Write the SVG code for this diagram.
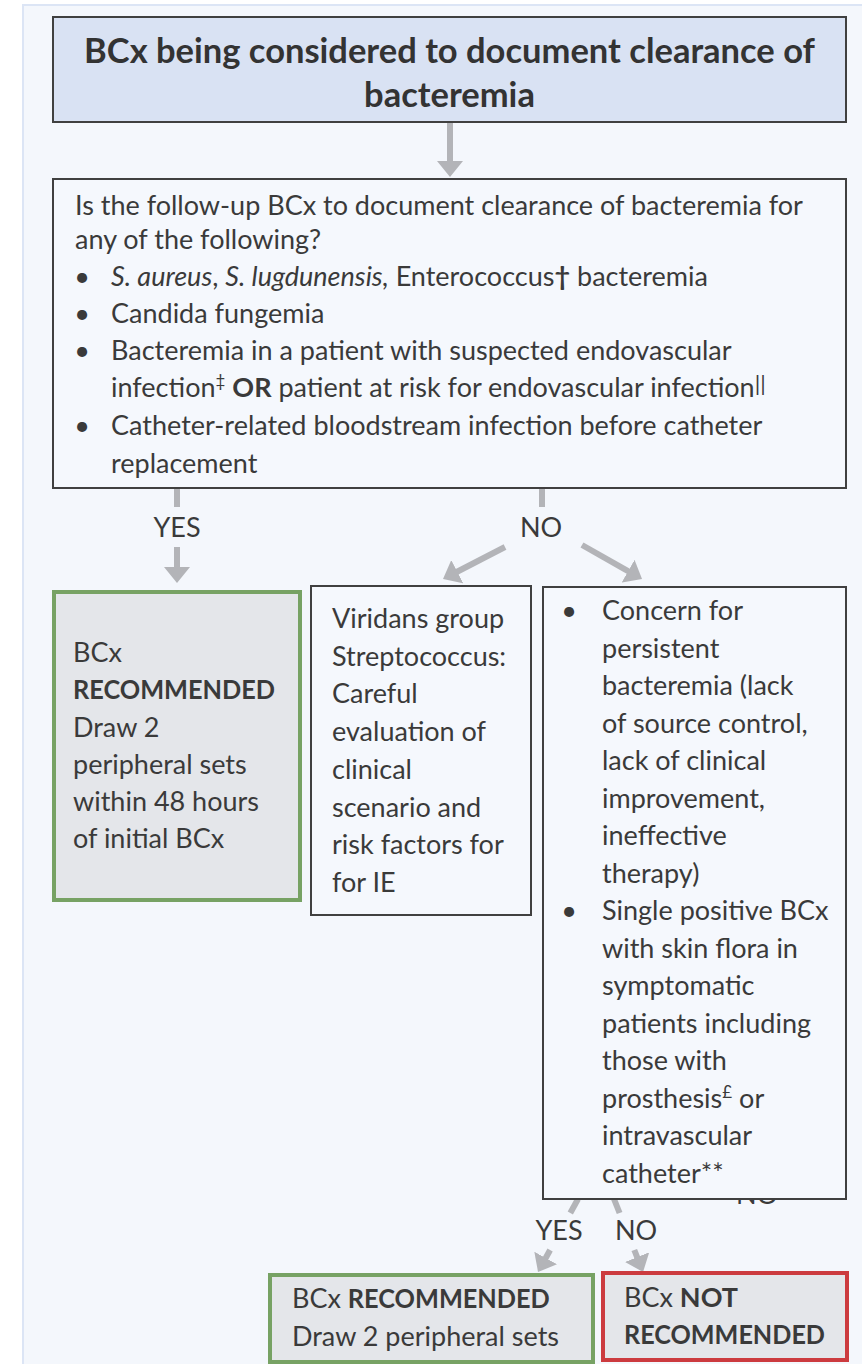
<svg xmlns="http://www.w3.org/2000/svg" width="862" height="1364" viewBox="0 0 862 1364">
<style>
.t{font-family:Lato,'Noto Sans','Liberation Sans',sans-serif;font-size:27px;fill:#3a3a3a}
.title{font-family:Lato,'Noto Sans','Liberation Sans',sans-serif;font-size:34.5px;font-weight:bold;fill:#333333;text-anchor:middle}
.b{font-weight:bold}
.i{font-style:italic}
.sup{font-size:17px}
.bars{font-size:22px}
.box{fill:#f5f8fd;stroke:#404040;stroke-width:2}
.green{fill:#e4e6ea;stroke:#77a264;stroke-width:4}
.red{fill:#e4e6ea;stroke:#cc3b3f;stroke-width:4}
.conn{stroke:#b3b4b8;stroke-width:6;fill:none}
.lbl{text-anchor:middle}
</style>
<defs>
<marker id="ah" markerUnits="userSpaceOnUse" markerWidth="16" markerHeight="26" refX="4" refY="13" orient="auto" viewBox="0 0 16 26"><path d="M0,0 L16,13 L0,26 z" fill="#b3b4b8"/></marker>
</defs>
<rect x="23" y="5" width="870" height="1390" fill="#f4f7fc" stroke="#dce5f5" stroke-width="2"/>

<g id="connectors">
<line class="conn" x1="450" y1="122" x2="450" y2="165" marker-end="url(#ah)"/>
<line class="conn" x1="177" y1="488" x2="177" y2="507"/>
<text class="t lbl" x="177" y="537">YES</text>
<line class="conn" x1="177" y1="547" x2="177" y2="571" marker-end="url(#ah)"/>
<line class="conn" x1="542" y1="488" x2="542" y2="507"/>
<text class="t lbl" x="541" y="537">NO</text>
<line class="conn" x1="505" y1="547" x2="453.7" y2="573.5" marker-end="url(#ah)"/>
<line class="conn" x1="582" y1="545" x2="631.6" y2="573.1" marker-end="url(#ah)"/>
<line class="conn" x1="578" y1="1199" x2="570.3" y2="1213"/>
<text class="t lbl" x="559" y="1240">YES</text>
<line class="conn" x1="550.1" y1="1250" x2="543.8" y2="1261.5" marker-end="url(#ah)"/>
<line class="conn" x1="614" y1="1199" x2="619.6" y2="1213"/>
<text class="t lbl" x="636" y="1240">NO</text>
<line class="conn" x1="634.3" y1="1250" x2="638.6" y2="1260.8" marker-end="url(#ah)"/>
<text class="t lbl" x="757" y="1204">NO</text>
</g>

<g id="start">
<rect x="53" y="17" width="793" height="105" fill="#d9e2f3" stroke="#404040" stroke-width="2"/>
<text class="title" x="449.5" y="63">BCx being considered to document clearance of</text>
<text class="title" x="449.5" y="107">bacteremia</text>
</g>

<g id="question">
<rect class="box" x="53" y="179" width="793" height="309"/>
<text class="t" x="75" y="215">Is the follow-up BCx to document clearance of bacteremia for</text>
<text class="t" x="75" y="249">any of the following?</text>
<text class="t lbl" x="82" y="286">•</text>
<text class="t" x="111" y="286"><tspan class="i">S. aureus</tspan>, <tspan class="i">S. lugdunensis,</tspan> Enterococcus<tspan class="b">†</tspan> bacteremia</text>
<text class="t lbl" x="82" y="323">•</text>
<text class="t" x="111" y="323">Candida fungemia</text>
<text class="t lbl" x="82" y="360">•</text>
<text class="t" x="111" y="360">Bacteremia in a patient with suspected endovascular</text>
<text class="t" x="111" y="397">infection<tspan class="sup" dy="-10">‡</tspan><tspan dy="10"> </tspan><tspan class="b">OR</tspan> patient at risk for endovascular infection<tspan class="bars" dy="-6">||</tspan></text>
<text class="t lbl" x="82" y="435">•</text>
<text class="t" x="111" y="435">Catheter-related bloodstream infection before catheter</text>
<text class="t" x="111" y="473">replacement</text>
</g>

<g id="rec1">
<rect class="green" x="54" y="592" width="246" height="308"/>
<text class="t" x="73" y="662">BCx</text>
<text class="t b" x="73" y="699" textLength="202" lengthAdjust="spacingAndGlyphs">RECOMMENDED</text>
<text class="t" x="73" y="737">Draw 2</text>
<text class="t" x="73" y="774">peripheral sets</text>
<text class="t" x="73" y="811">within 48 hours</text>
<text class="t" x="73" y="848">of initial BCx</text>
</g>

<g id="viridans">
<rect class="box" x="311" y="586" width="220" height="329"/>
<text class="t" x="332" y="628">Viridans group</text>
<text class="t" x="332" y="666">Streptococcus:</text>
<text class="t" x="332" y="703">Careful</text>
<text class="t" x="332" y="741">evaluation of</text>
<text class="t" x="332" y="779">clinical</text>
<text class="t" x="332" y="817">scenario and</text>
<text class="t" x="332" y="854">risk factors for</text>
<text class="t" x="332" y="892">for IE</text>
</g>

<g id="concern">
<rect class="box" x="543" y="587" width="303" height="612"/>
<text class="t lbl" x="569" y="620">•</text>
<text class="t" x="602" y="620">Concern for</text>
<text class="t" x="602" y="657.5">persistent</text>
<text class="t" x="602" y="695">bacteremia (lack</text>
<text class="t" x="602" y="732.5">of source control,</text>
<text class="t" x="602" y="770">lack of clinical</text>
<text class="t" x="602" y="807.5">improvement,</text>
<text class="t" x="602" y="845">ineffective</text>
<text class="t" x="602" y="882.5">therapy)</text>
<text class="t lbl" x="569" y="920">•</text>
<text class="t" x="602" y="920">Single positive BCx</text>
<text class="t" x="602" y="957.5">with skin flora in</text>
<text class="t" x="602" y="995">symptomatic</text>
<text class="t" x="602" y="1032.5">patients including</text>
<text class="t" x="602" y="1070">those with</text>
<text class="t" x="602" y="1107.5">prosthesis<tspan class="sup" dy="-10">£</tspan><tspan dy="10"> or</tspan></text>
<text class="t" x="602" y="1145">intravascular</text>
<text class="t" x="602" y="1182.5">catheter**</text>
</g>

<g id="rec2">
<rect class="green" x="270" y="1275" width="323" height="87"/>
<text class="t" x="292" y="1308">BCx <tspan class="b" textLength="202" lengthAdjust="spacingAndGlyphs">RECOMMENDED</tspan></text>
<text class="t" x="292" y="1346">Draw 2 peripheral sets</text>
</g>

<g id="notrec">
<rect class="red" x="603" y="1273" width="244" height="87"/>
<text class="t" x="624" y="1307">BCx <tspan class="b">NOT</tspan></text>
<text class="t b" x="624" y="1344" textLength="201" lengthAdjust="spacingAndGlyphs">RECOMMENDED</text>
</g>
</svg>
